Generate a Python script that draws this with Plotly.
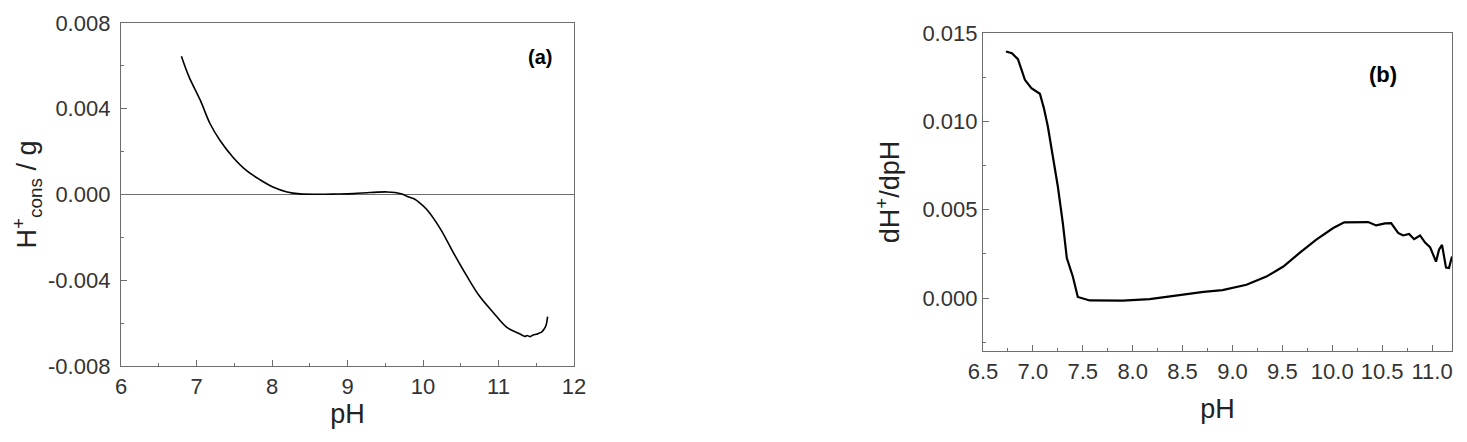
import plotly.graph_objects as go
from plotly.subplots import make_subplots

# panel (a): H+ consumed per gram vs pH
ph_a = [6.80, 6.90, 7.05, 7.18, 7.31, 7.48, 7.66, 7.84, 8.02, 8.20, 8.37, 8.60,
        8.85, 9.08, 9.30, 9.52, 9.63, 9.72, 9.80, 9.88, 9.96, 10.05, 10.23, 10.40,
        10.58, 10.75, 10.93, 11.11, 11.28, 11.35, 11.38, 11.42, 11.46, 11.50, 11.53,
        11.57, 11.60, 11.63, 11.65]
h_cons = [0.00645, 0.0055, 0.0044, 0.0033, 0.00253, 0.00175, 0.00112, 0.00069,
          0.00034, 0.00012, 0.00003, 0.00001, 0.00002, 0.00004, 0.00009, 0.00012,
          0.00009, 0.00002, -0.0001, -0.0002, -0.0004, -0.0007, -0.0016, -0.0027,
          -0.0038, -0.00475, -0.0055, -0.0062, -0.0065, -0.00662, -0.00658, -0.00663,
          -0.00655, -0.00652, -0.00648, -0.00642, -0.0063, -0.0061, -0.0057]

# panel (b): derivative dH+/dpH
ph_b = [6.73, 6.79, 6.85, 6.885, 6.92, 6.985, 7.07, 7.11, 7.15, 7.20, 7.25, 7.30,
        7.34, 7.40, 7.45, 7.57, 7.80, 7.90, 8.17, 8.44, 8.71, 8.90, 9.14, 9.34,
        9.51, 9.67, 9.84, 10.01, 10.12, 10.36, 10.44, 10.53, 10.59, 10.66, 10.71,
        10.77, 10.82, 10.88, 10.93, 10.98, 11.04, 11.07, 11.10, 11.14, 11.17, 11.20]
dh_dph = [0.01395, 0.01386, 0.01352, 0.01291, 0.01235, 0.01188, 0.01156, 0.01075,
          0.00971, 0.00801, 0.00631, 0.00424, 0.00226, 0.00122, 0.00006, -0.00014,
          -0.00015, -0.00015, -0.00006, 0.00016, 0.00035, 0.00045, 0.00075, 0.00121,
          0.00178, 0.00254, 0.0033, 0.00396, 0.00428, 0.0043, 0.00411, 0.00422,
          0.00424, 0.00368, 0.00354, 0.00362, 0.00333, 0.00354, 0.00314, 0.00288,
          0.00206, 0.00273, 0.00301, 0.00172, 0.0017, 0.00235]

ya_ticks = [0.008, 0.004, 0.0, -0.004, -0.008]
ya_labels = ["0.008", "0.004", "0.000", "-0.004", "-0.008"]

FONT = "Arial, Liberation Sans, sans-serif"
AX = "#6e6e6e"

# page body has an 8px margin, so size the figure to fit the window
W, H, OFF = 1459, 434, 8


def px_x(p):
    return (p - OFF) / W


def px_y(p):
    return 1 - (p - OFF) / H


fig = make_subplots(rows=1, cols=2)
fig.add_trace(go.Scatter(x=ph_a, y=h_cons, mode="lines", line=dict(color="black", width=1.6, shape="spline")),
              row=1, col=1)
fig.add_trace(go.Scatter(x=ph_b, y=dh_dph, mode="lines", line=dict(color="black", width=2.2)),
              row=1, col=2)

common = dict(showline=True, linecolor=AX, linewidth=1.3, mirror=True, ticks="inside", ticklen=6,
              tickcolor=AX, showgrid=False, tickfont=dict(size=22, color="#333333", family=FONT),
              automargin=False)
title_font = dict(size=27, family=FONT, color="#222")

fig.update_xaxes(common)
fig.update_yaxes(common)

fig.update_xaxes(domain=[px_x(121), px_x(574)], range=[6, 12], dtick=1, zeroline=False,
                 minor=dict(ticks="inside", ticklen=3, dtick=0.5, tickcolor=AX),
                 title=dict(text="pH", font=title_font, standoff=4),
                 row=1, col=1)
fig.update_yaxes(domain=[px_y(366), px_y(23)], range=[-0.008, 0.008],
                 tickvals=ya_ticks, ticktext=ya_labels, ticklabelstandoff=5,
                 zeroline=True, zerolinecolor=AX, zerolinewidth=1.3,
                 minor=dict(ticks="inside", ticklen=3, dtick=0.002, tickcolor=AX),
                 title=dict(text="H<sup>+</sup><sub>cons</sub> / g", font=title_font, standoff=6),
                 row=1, col=1)

fig.update_xaxes(domain=[px_x(983), px_x(1452)], range=[6.5, 11.2], dtick=0.5, tickformat=".1f",
                 zeroline=False,
                 minor=dict(ticks="inside", ticklen=3, dtick=0.25, tickcolor=AX),
                 title=dict(text="pH", font=title_font, standoff=16),
                 row=1, col=2)
fig.update_yaxes(domain=[px_y(351), px_y(33)], range=[-0.003, 0.015], dtick=0.005,
                 tickformat=".3f", zeroline=False,
                 minor=dict(ticks="inside", ticklen=3, dtick=0.0025, tickcolor=AX),
                 title=dict(text="dH<sup>+</sup>/dpH", font=title_font, standoff=14),
                 row=1, col=2)

fig.add_annotation(x=px_x(540), y=px_y(57), xref="paper", yref="paper", text="<b>(a)</b>",
                   xanchor="center", yanchor="middle",
                   showarrow=False, font=dict(size=20, family=FONT, color="black"))
fig.add_annotation(x=px_x(1383), y=px_y(74), xref="paper", yref="paper", text="<b>(b)</b>",
                   xanchor="center", yanchor="middle",
                   showarrow=False, font=dict(size=22, family=FONT, color="black"))

fig.update_layout(width=W, height=H, showlegend=False, plot_bgcolor="white", paper_bgcolor="white",
                  margin=dict(l=0, r=0, t=0, b=0), font=dict(family=FONT))

fig.write_html("out.html")
